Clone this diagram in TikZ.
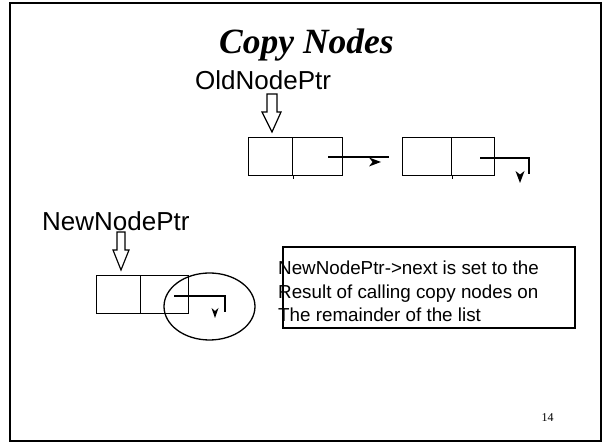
\documentclass[tikz,border=0pt]{standalone}
\usepackage{fontspec}
\setmainfont{Liberation Sans}
\newfontfamily\serifface{Liberation Serif}
\begin{document}
\begin{tikzpicture}[x=1pt,y=-1pt,
  cell/.style={draw,line width=1.4pt,minimum width=44pt,minimum height=38pt,inner sep=0pt,anchor=north west},
  ptrline/.style={line width=1.2pt},
  headfill/.style={fill=black,draw=none},
  blockarrow/.style={draw,line width=1.2pt,fill=white},
  lbl/.style={inner sep=0pt,anchor=base west,font=\fontsize{26}{30}\selectfont},
  note/.style={inner sep=0pt,anchor=base west,align=left,font=\fontsize{18.8}{23.5}\selectfont}]
\useasboundingbox (0,0) rectangle (606,443);
% slide frame
\draw[line width=1.5pt] (10,3) rectangle (601,441);
\node[inner sep=0pt,anchor=base,font=\serifface\bfseries\itshape\fontsize{35.5}{38}\selectfont] (title) at (306.5,54) {Copy Nodes};
\node[inner sep=0pt,anchor=base,font=\serifface\fontsize{12}{14}\selectfont] (pnum) at (547.5,422) {14};

% old list
\node[lbl] (oldptr) at (195,90) {OldNodePtr};
\node[cell] (o1a) at (248,137) {};
\node[cell,minimum width=50pt] (o1b) at (292,137) {};
\node[cell,minimum width=49pt] (o2a) at (402,137) {};
\node[cell,minimum width=43pt] (o2b) at (451,137) {};
\draw[line width=1.2pt] (o1a.south east) -- ++(0,3);
\draw[line width=1.2pt] (o2a.south east) -- ++(0,3);
\draw[blockarrow] (267,94) -- (277,94) -- (277,112) -- (281,112) -- (272,132) -- (262,112) -- (267,112) -- cycle;
\coordinate (s1) at (328,157);
\coordinate (e1) at (389,157);
\draw[ptrline] (s1) -- (e1);
\fill[headfill] (381,162) -- (369,157.5) -- (372.5,162) -- (369,166.5) -- cycle;
\coordinate (s2) at (480,158);
\coordinate (c2) at (529,158);
\coordinate (e2) at (529,174);
\draw[ptrline] (s2) -- (c2) -- (e2);
\fill[headfill] (520,183) -- (515.5,171) -- (520,174.5) -- (524.5,171) -- cycle;

% new list
\node[lbl] (newptr) at (42,231) {NewNodePtr};
\node[cell] (n1a) at (96,275) {};
\node[cell,minimum width=48pt] (n1b) at (140,275) {};
\draw[blockarrow] (117,232) -- (125,232) -- (125,250) -- (129,250) -- (121,270) -- (113,250) -- (117,250) -- cycle;
\coordinate (s3) at (174,296);
\coordinate (c3) at (225,296);
\coordinate (e3) at (225,312);
\draw[ptrline] (s3) -- (c3) -- (e3);
\fill[headfill] (215,318) -- (211.5,308) -- (215,311) -- (218.5,308) -- cycle;
\draw[line width=1.3pt] (209.5,306.5) ellipse [x radius=45.5, y radius=33.5];

% note box
\draw[line width=1.4pt] (283,247) rectangle (575,328);
\node[note] (txt) at (278,322) {NewNodePtr->next is set to the\\Result of calling copy nodes on\\The remainder of the list};
\end{tikzpicture}
\end{document}
